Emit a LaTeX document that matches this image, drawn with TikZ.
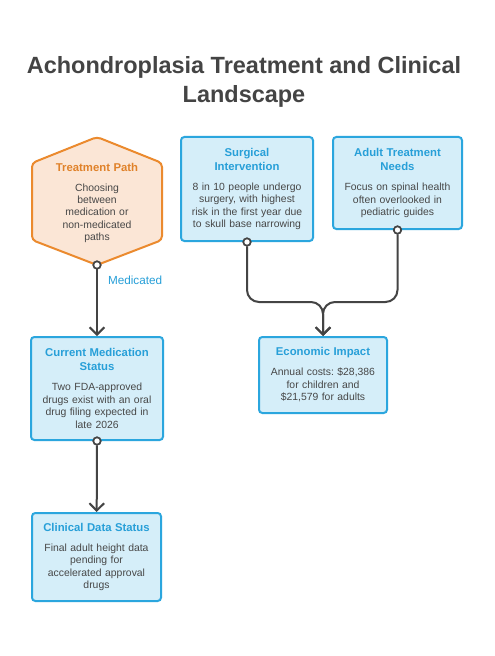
\documentclass[tikz,border=0pt]{standalone}
\usepackage{fontspec}
\setmainfont{Liberation Sans}
\usetikzlibrary{arrows.meta,positioning}
\frenchspacing
\definecolor{boxblue}{HTML}{2BA6DE}
\definecolor{boxfill}{HTML}{D5EEF9}
\definecolor{headblue}{HTML}{279FD8}
\definecolor{hexorange}{HTML}{EB8A2E}
\definecolor{hexfill}{HTML}{FBE6D6}
\definecolor{headorange}{HTML}{E0822A}
\definecolor{bodygray}{HTML}{474747}
\definecolor{linegray}{HTML}{444444}
\newcommand{\bodyfont}{\fontsize{7.8}{9.4}\selectfont}
\newcommand{\boxhead}[2]{{\color{#1}\bfseries\fontsize{8.5}{10.5}\selectfont #2\par}\vspace{5.6pt}}

\begin{document}
\begin{tikzpicture}[x=0.75pt, y=-0.75pt,
    box/.style={draw=boxblue, fill=boxfill, line width=1.5pt, rounded corners=2.5pt,
      text width=88pt, align=center, inner sep=0pt, text=bodygray, font=\bodyfont},
    conn/.style={draw=linegray, line width=1.5pt, -{Straight Barb[length=5.5pt,width=11pt]}},
    dot/.style={circle, draw=linegray, fill=white, line width=1.2pt, minimum size=5.5pt, inner sep=0pt},
    lbl/.style={text=headblue, font=\fontsize{8.8}{10}\selectfont, inner sep=0pt}]
  \useasboundingbox[fill=white] (0,0) rectangle (494,656);

  % title
  \node[text=linegray, align=center, font=\bfseries\fontsize{17.6}{21.75}\selectfont] (title) at (244,82)
    {Achondroplasia Treatment and Clinical\\Landscape};

  % treatment path hexagon
  \coordinate (hexT) at (97,137);
  \coordinate (hexB) at (97,265);
  \draw[draw=hexorange, fill=hexfill, line width=1.5pt, rounded corners=3pt]
    (hexT) -- (162,163) -- (162,240) -- (hexB) -- (32,240) -- (32,163) -- cycle;
  \node[text width=88pt, align=center, inner sep=0pt, text=bodygray,
      font=\fontsize{7.8}{9.25}\selectfont] (treat) at (97,203)
    {\boxhead{headorange}{Treatment Path}Choosing\\between\\medication or\\non-medicated\\paths};

  % left column
  \node[box, minimum width=99pt, minimum height=77.25pt] (med) at (97,388.5)
    {\boxhead{headblue}{Current Medication\\Status}Two FDA-approved\\drugs exist with an oral\\drug filing expected in\\late 2026};
  \node[box, minimum width=96.75pt, minimum height=66pt] (clin) at (96.5,557)
    {\boxhead{headblue}{Clinical Data Status}Final adult height data\\pending for\\accelerated approval\\drugs};

  % right side
  \node[box, minimum width=99pt, minimum height=78pt] (surg) at (247,189)
    {\boxhead{headblue}{Surgical\\Intervention}8 in 10 people undergo\\surgery, with highest\\risk in the first year due\\to skull base narrowing};
  \node[box, minimum width=96.75pt, minimum height=69pt] (adult) at (397.5,183)
    {\boxhead{headblue}{Adult Treatment\\Needs}Focus on spinal health\\often overlooked in\\pediatric guides};
  \node[box, minimum width=96pt, minimum height=57pt] (econ) at (323,375)
    {\boxhead{headblue}{Economic Impact}Annual costs: \$28,386\\for children and\\\$21,579 for adults};

  \node[dot] (pathDot) at (hexB) {};
  \node[dot] (medDot) at (med.south) {};
  \node[dot] (surgDot) at (surg.south) {};
  \node[dot] (adultDot) at (adult.south) {};
  \coordinate (join) at (323,302);

  \draw[conn] (pathDot) -- node[lbl, pos=0.17, anchor=west, xshift=7.5pt] {Medicated} (med);
  \draw[conn] (medDot) -- (clin);
  \draw[conn, rounded corners=9pt] (surgDot) |- (join) -- (econ);
  \draw[conn, rounded corners=9pt] (adultDot) |- (join) -- (econ);

  \node[dot] at (hexB) {};
  \node[dot] at (med.south) {};
  \node[dot] at (surg.south) {};
  \node[dot] at (adult.south) {};
\end{tikzpicture}
\end{document}
